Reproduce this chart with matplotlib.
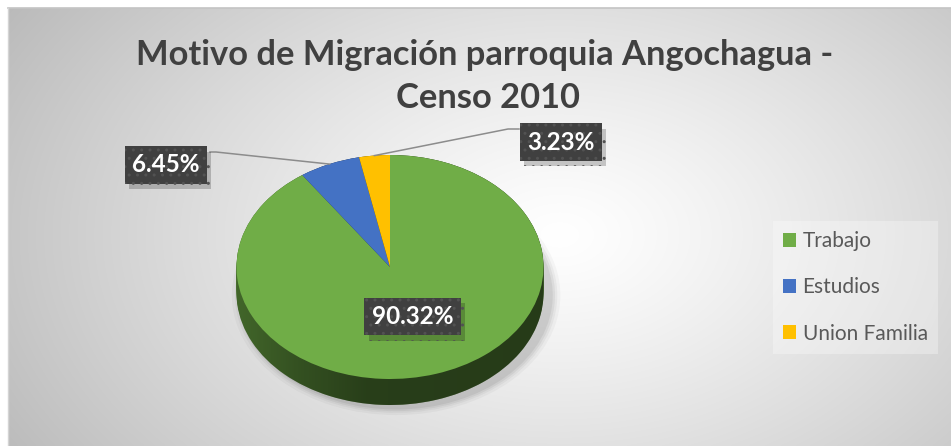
import numpy as np
import matplotlib
matplotlib.use('Agg')
import matplotlib.pyplot as plt
from matplotlib.patches import Polygon, Ellipse
import matplotlib.patheffects as pe

# ---------------- data ----------------
categories = ['Trabajo', 'Estudios', 'Union Familia']
values = [90.32, 6.45, 3.23]
colors = ['#70AD47', '#4472C4', '#FFC000']
label_texts = ['90.32%', '6.45%', '3.23%']
title_line1 = 'Motivo de Migración parroquia Angochagua -'
title_line2 = 'Censo 2010'

W, H = 951, 446
FONT = 'Lato'
fig = plt.figure(figsize=(W / 100, H / 100), dpi=100)
fig.patch.set_facecolor('white')

# ---------------- background (radial gradient chart area) ----------------
bg = fig.add_axes([0, 0, 1, 1])
bg.axis('off')
x0, y0 = 8, 8
xs = np.linspace(x0, W, 480)
ys = np.linspace(y0, H, 240)
X, Y = np.meshgrid(xs, ys)
cx, cy = 560, 235
r = np.sqrt(((X - cx) / 500.0) ** 2 + ((Y - cy) / 330.0) ** 2)
gray = 255 - 50 * np.clip(r, 0, 1.3) ** 1.2
rgb = np.dstack([gray, gray, gray]) / 255.0
bg.imshow(rgb, extent=(x0, W, H, y0), aspect='auto', interpolation='bilinear')
bg.plot([x0, W], [y0, y0], color='#c4c4c4', lw=1.2)
bg.plot([x0, x0], [y0, H], color='#d4d4d4', lw=1.0)
bg.set_xlim(0, W)
bg.set_ylim(H, 0)

# ---------------- pie geometry (pixels) ----------------
pcx, pcy = 390, 267
rx, ry = 153.5, 112
depth_px = 26
px_l, px_r, px_t, px_b = 215, 575, 140, 430
ax = fig.add_axes([px_l / W, 1 - px_b / H, (px_r - px_l) / W, (px_b - px_t) / H])
d = depth_px / ry

# soft shadow
for s, a in [(1.07, 0.03), (1.05, 0.04), (1.035, 0.05), (1.02, 0.06)]:
    ax.add_patch(Ellipse((0.04, -d - 0.02), 2 * s, 2 * s, facecolor='black',
                         alpha=a, lw=0, zorder=0))

# side of the 3D pie: stacked darker pies
dark_colors = []
for c in colors:
    rr, gg, bb = matplotlib.colors.to_rgb(c)
    dark_colors.append((rr * 0.62, gg * 0.62, bb * 0.62))
n_layers = 14
for k in range(n_layers):
    off = d * (1 - k / (n_layers - 1))
    ax.pie(values, colors=dark_colors, startangle=90, counterclock=False,
           center=(0, -off), wedgeprops=dict(linewidth=0))

# shading gradient over the side, clipped to the body hull
t = np.linspace(0, np.pi, 120)
hull = np.vstack([np.c_[np.cos(t), np.sin(t)],
                  np.c_[np.cos(t + np.pi), np.sin(t + np.pi) - d]])
hull_patch = Polygon(hull, closed=True, facecolor='none', edgecolor='none')
ax.add_patch(hull_patch)
gx = np.linspace(-1, 1, 300)
alpha_row = np.interp(gx, [-1.0, -0.6, -0.15, 1.0], [0.05, 0.25, 0.42, 0.45])
shade = np.zeros((2, 300, 4))
shade[..., 3] = alpha_row[None, :]
im = ax.imshow(shade, extent=(-1, 1, -1 - d, 1), aspect='auto', zorder=2,
               interpolation='bilinear')
im.set_clip_path(hull_patch)

# top face
wedges, _ = ax.pie(values, colors=colors, startangle=90, counterclock=False,
                   center=(0, 0), wedgeprops=dict(linewidth=0))
for w in wedges:
    w.set_zorder(3)
ax.set_aspect('auto')
ax.set_xlim((px_l - pcx) / rx, (px_r - pcx) / rx)
ax.set_ylim((pcy - px_b) / ry, (pcy - px_t) / ry)
ax.axis('off')

# ---------------- overlay: labels, title, legend ----------------
ov = fig.add_axes([0, 0, 1, 1])
ov.set_xlim(0, W)
ov.set_ylim(H, 0)
ov.axis('off')
ov.patch.set_alpha(0)

# mid angles of slices -> edge points (pixels)
fr = np.array(values) / np.sum(values)
starts = 90 - 360 * np.concatenate([[0], np.cumsum(fr)[:-1]])
mids = np.deg2rad(starts - 180 * fr)
edge_x = pcx + rx * np.cos(mids)
edge_y = pcy - ry * np.sin(mids)

label_pos = [(412.5, 316.5), (166, 165), (561, 142)]
leader_paths = [None,
                [(210, 152), (216, 152)],
                [(519, 129), (508, 129)]]
for i, (lx, ly) in enumerate(label_pos):
    if leader_paths[i] is not None:
        pts = leader_paths[i] + [(edge_x[i], edge_y[i])]
        px_, py_ = zip(*pts)
        ov.plot(px_, py_, color='#8c8c8c', lw=1.1, zorder=4)
    txt = ov.text(lx, ly, label_texts[i], ha='center', va='center',
                  fontsize=17.5, fontweight='bold', family=FONT, color='white',
                  bbox=dict(boxstyle='square,pad=0.3', facecolor='#404040',
                            edgecolor='#525252', linewidth=0, hatch='..'),
                  zorder=6)
    txt.get_bbox_patch().set_path_effects(
        [pe.SimplePatchShadow(offset=(3, -4), shadow_rgbFace='black', alpha=0.2),
         pe.Normal()])

ov.text(485, 65, title_line1, ha='center', va='baseline', fontsize=24.8,
        fontweight='bold', family=FONT, color='#404040')
ov.text(488, 108, title_line2, ha='center', va='baseline', fontsize=24.8,
        fontweight='bold', family=FONT, color='#404040')

leg = ov.legend(wedges, categories, loc='upper left', bbox_to_anchor=(773, 221),
                bbox_transform=ov.transData, frameon=True, fancybox=False,
                prop=dict(family=FONT, size=15), labelcolor='#595959',
                handlelength=0.62, handleheight=0.62, handletextpad=0.3,
                labelspacing=1.25, borderpad=0.5, borderaxespad=0)
leg.get_frame().set_facecolor('white')
leg.get_frame().set_alpha(0.3)
leg.get_frame().set_edgecolor('none')

fig.savefig('out.png', dpi=100, facecolor='white')
